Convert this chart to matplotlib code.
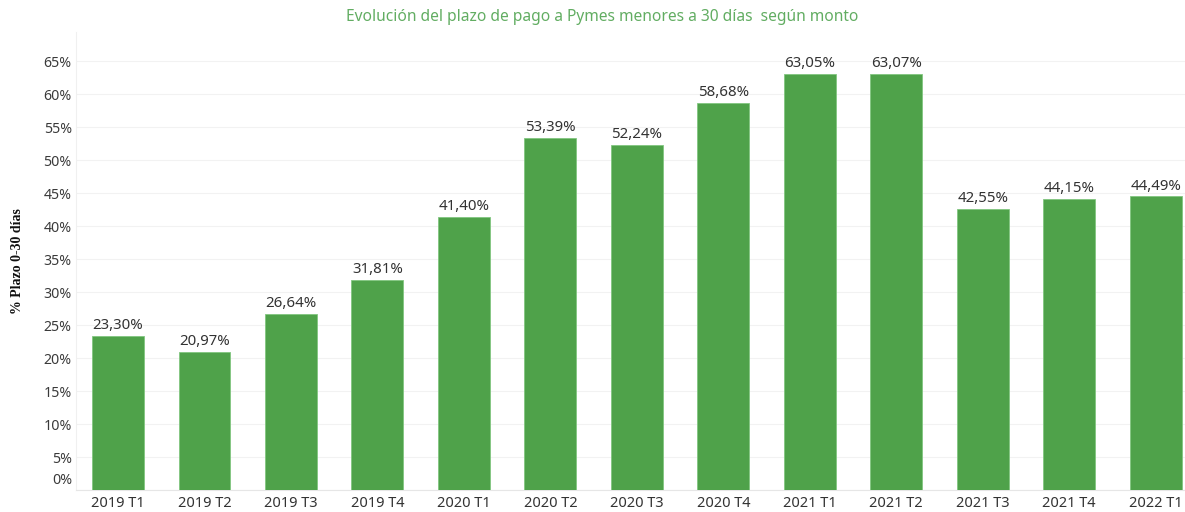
import matplotlib
matplotlib.use("Agg")
import matplotlib.pyplot as plt

categories = ["2019 T1", "2019 T2", "2019 T3", "2019 T4", "2020 T1", "2020 T2", "2020 T3",
              "2020 T4", "2021 T1", "2021 T2", "2021 T3", "2021 T4", "2022 T1"]
values = [23.30, 20.97, 26.64, 31.81, 41.40, 53.39, 52.24, 58.68, 63.05, 63.07, 42.55, 44.15, 44.49]
yticks = [0, 5, 10, 15, 20, 25, 30, 35, 40, 45, 50, 55, 60, 65]

plt.rcParams['font.family'] = ['Noto Sans', 'DejaVu Sans']

fig = plt.figure(figsize=(11.85, 5.12), dpi=100)
ax = fig.add_axes([76/1185, 22/512, (1185-76)/1185, (490-32)/512])

x = list(range(len(categories)))
ax.bar(x, values, width=0.6, color="#4fa24a", edgecolor="#82c680", linewidth=0.6, zorder=3)

for xi, v in zip(x, values):
    ax.annotate(f"{v:.2f}%".replace(".", ","), (xi, v), xytext=(0, 2), textcoords="offset points",
                ha="center", va="bottom", fontsize=10.8, color="#333333", zorder=4)

ax.set_xlim(-0.486, 12.34)
ax.set_ylim(0, 69.4)
ax.set_xticks(x)
ax.set_xticklabels(categories, fontsize=10.5, color="#333333")
ax.set_yticks(yticks)
ax.set_yticklabels(["" if t == 0 else f"{t}%" for t in yticks], fontsize=10.2, color="#3a3a3a")
# 0% label placed slightly above the baseline, as in the reference
ax.annotate(f"{yticks[0]}%", xy=(0, yticks[0]), xycoords=("axes fraction", "data"),
            xytext=(-4, 10), textcoords="offset pixels", ha="right", va="center",
            fontsize=10.2, color="#3a3a3a")

ax.grid(axis="y", color="#f2f2f2", linewidth=0.8, zorder=0)
for s in ["top", "right"]:
    ax.spines[s].set_visible(False)
ax.spines["left"].set_color("#f0f0f0")
ax.spines["bottom"].set_color("#e6e6e6")
ax.tick_params(axis="y", length=0, pad=3)
ax.tick_params(axis="x", length=0, pad=4)

ax.set_ylabel("% Plazo 0-30 días", family=["Liberation Serif", "DejaVu Serif"], fontweight="bold",
              fontsize=10, color="#111111")
ax.yaxis.set_label_coords(-0.047, 0.5)

fig.text(602/1185, 1 - 17/512, "Evolución del plazo de pago a Pymes menores a 30 días  según monto",
         ha="center", va="center", fontsize=11.2, color="#62ad62")

fig.savefig("out.png", dpi=100)
